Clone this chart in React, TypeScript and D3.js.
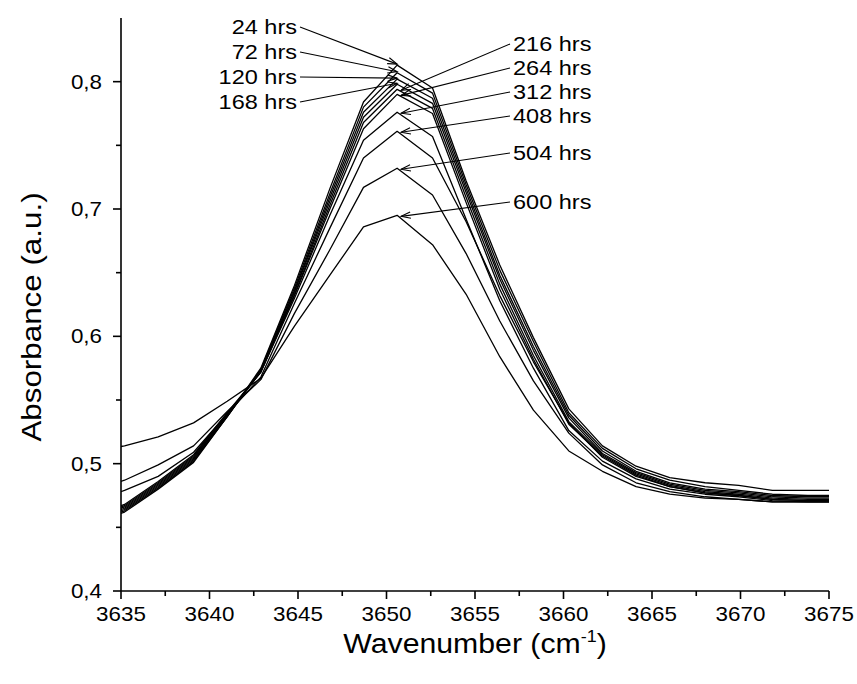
import React from "react";
import * as d3 from "d3";

const wavenumbers = [3633.3, 3635.2, 3637.1, 3639.1, 3641.0, 3642.9, 3644.8, 3646.8, 3648.7, 3650.6, 3652.6, 3654.5, 3656.4, 3658.3, 3660.3, 3662.2, 3664.1, 3666.0, 3668.0, 3669.9, 3671.8, 3673.8, 3675.7];

const h24 = [0.452, 0.462, 0.480, 0.501, 0.537, 0.575, 0.640, 0.716, 0.784, 0.813, 0.795, 0.722, 0.656, 0.599, 0.543, 0.514, 0.498, 0.489, 0.485, 0.483, 0.479, 0.479, 0.479];
const h72 = [0.453, 0.463, 0.481, 0.502, 0.537, 0.574, 0.638, 0.712, 0.780, 0.807, 0.791, 0.719, 0.652, 0.596, 0.540, 0.512, 0.496, 0.487, 0.482, 0.479, 0.476, 0.475, 0.475];
const h120 = [0.454, 0.464, 0.482, 0.503, 0.537, 0.573, 0.636, 0.709, 0.776, 0.802, 0.787, 0.716, 0.648, 0.592, 0.538, 0.510, 0.494, 0.485, 0.480, 0.478, 0.475, 0.474, 0.474];
const h168 = [0.455, 0.465, 0.483, 0.504, 0.538, 0.573, 0.635, 0.706, 0.772, 0.798, 0.783, 0.713, 0.645, 0.589, 0.536, 0.508, 0.493, 0.484, 0.479, 0.477, 0.474, 0.473, 0.473];
const h216 = [0.456, 0.466, 0.484, 0.505, 0.538, 0.572, 0.633, 0.703, 0.768, 0.794, 0.779, 0.709, 0.641, 0.585, 0.533, 0.507, 0.492, 0.483, 0.478, 0.476, 0.473, 0.472, 0.472];
const h264 = [0.457, 0.467, 0.485, 0.506, 0.539, 0.572, 0.632, 0.700, 0.763, 0.790, 0.775, 0.705, 0.637, 0.582, 0.531, 0.506, 0.491, 0.482, 0.477, 0.475, 0.472, 0.471, 0.471];
const h312 = [0.458, 0.468, 0.486, 0.507, 0.540, 0.572, 0.630, 0.695, 0.754, 0.776, 0.757, 0.692, 0.628, 0.575, 0.526, 0.502, 0.488, 0.480, 0.476, 0.474, 0.471, 0.470, 0.470];
const h408 = [0.470, 0.479, 0.490, 0.509, 0.539, 0.568, 0.626, 0.685, 0.740, 0.761, 0.740, 0.690, 0.632, 0.580, 0.532, 0.505, 0.490, 0.482, 0.477, 0.475, 0.472, 0.471, 0.471];
const h504 = [0.478, 0.487, 0.499, 0.514, 0.541, 0.566, 0.618, 0.668, 0.717, 0.732, 0.711, 0.665, 0.612, 0.565, 0.524, 0.499, 0.485, 0.478, 0.474, 0.472, 0.470, 0.470, 0.470];
const h600 = [0.509, 0.514, 0.521, 0.532, 0.549, 0.567, 0.608, 0.648, 0.686, 0.695, 0.672, 0.633, 0.584, 0.542, 0.510, 0.494, 0.482, 0.476, 0.473, 0.472, 0.470, 0.470, 0.470];

const seriesLabels = ["24 hrs", "72 hrs", "120 hrs", "168 hrs", "216 hrs", "264 hrs", "312 hrs", "408 hrs", "504 hrs", "600 hrs"];
const seriesValues = [h24, h72, h120, h168, h216, h264, h312, h408, h504, h600];

const xTicks = [3635, 3640, 3645, 3650, 3655, 3660, 3665, 3670, 3675];
const yTicks = [0.4, 0.5, 0.6, 0.7, 0.8];
const yTickLabels = ["0,4", "0,5", "0,6", "0,7", "0,8"];
const peakWavenumber = 3650.6;

// layout (annotation positions)
const labelLayout = [
  { side: "left", y: 27 },
  { side: "left", y: 52 },
  { side: "left", y: 77 },
  { side: "left", y: 102 },
  { side: "right", y: 44 },
  { side: "right", y: 68 },
  { side: "right", y: 92 },
  { side: "right", y: 116 },
  { side: "right", y: 153 },
  { side: "right", y: 202 },
];

const W = 857;
const H = 684;
const FONT = "'Liberation Sans', Arial, Helvetica, sans-serif";
const SX = 1.12; // horizontal stretch of the reference's lettering

function SText(props: { x: number; y: number; anchor: string; size: number; children: any; baseline?: string }) {
  return (
    <g transform={`translate(${props.x},${props.y}) scale(${SX},1)`}>
      <text
        x={0}
        y={0}
        textAnchor={props.anchor}
        dominantBaseline={props.baseline || "auto"}
        fontFamily={FONT}
        fontSize={props.size}
        fill="#000"
      >
        {props.children}
      </text>
    </g>
  );
}

export default function App() {
  const x = d3.scaleLinear().domain([3635, 3675]).range([121, 829]);
  const y = d3.scaleLinear().domain([0.4, 0.85]).range([591, 18]);
  const line = d3
    .line<number>()
    .x((_, i) => x(wavenumbers[i]))
    .y((d) => y(d));

  const minorX = d3.range(3637.5, 3675, 5);
  const minorY = [0.45, 0.55, 0.65, 0.75];
  const peakIdx = wavenumbers.indexOf(peakWavenumber);

  return (
    <svg width={W} height={H} style={{ position: "absolute", left: 0, top: 0, background: "#fff" }}>
      <defs>
        <clipPath id="plotclip">
          <rect x={121} y={0} width={708} height={600} />
        </clipPath>
      </defs>
      <rect x={0} y={0} width={W} height={H} fill="#fff" />
      <g clipPath="url(#plotclip)" fill="none" stroke="#000" strokeWidth={1.3} strokeLinejoin="round">
        {seriesValues.map((vals, k) => (
          <path key={k} d={line(vals) || ""} />
        ))}
      </g>
      {/* axes */}
      <g stroke="#000" strokeWidth={1.6} fill="none">
        <line x1={121} y1={591} x2={829} y2={591} />
        <line x1={121} y1={18} x2={121} y2={591} />
        {xTicks.map((t) => (
          <line key={"xt" + t} x1={x(t)} x2={x(t)} y1={591} y2={599} />
        ))}
        {minorX.map((t) => (
          <line key={"xm" + t} x1={x(t)} x2={x(t)} y1={591} y2={596} />
        ))}
        {yTicks.map((t) => (
          <line key={"yt" + t} x1={113} x2={121} y1={y(t)} y2={y(t)} />
        ))}
        {minorY.map((t) => (
          <line key={"ym" + t} x1={116} x2={121} y1={y(t)} y2={y(t)} />
        ))}
      </g>
      {xTicks.map((t) => (
        <SText key={"xl" + t} x={x(t)} y={621} anchor="middle" size={20}>
          {String(t)}
        </SText>
      ))}
      {yTicks.map((t, i) => (
        <SText key={"yl" + t} x={102} y={y(t)} anchor="end" size={20} baseline="central">
          {yTickLabels[i]}
        </SText>
      ))}
      <SText x={475} y={653} anchor="middle" size={27}>
        Wavenumber (cm
        <tspan fontSize={16} dy={-11}>-1</tspan>
        <tspan dy={11}>)</tspan>
      </SText>
      <g transform={`translate(41, 317) rotate(-90) scale(${SX},1)`}>
        <text x={0} y={0} textAnchor="middle" fontFamily={FONT} fontSize={28} fill="#000">
          Absorbance (a.u.)
        </text>
      </g>
      {/* annotations */}
      {seriesLabels.map((lab, k) => {
        const L = labelLayout[k];
        const left = L.side === "left";
        const sx = left ? 300 : 510;
        const sy = L.y;
        const tx = x(wavenumbers[peakIdx]) + (left ? 0 : 4);
        const ty = y(seriesValues[k][peakIdx]) + (left ? -1 : 1);
        const ang = Math.atan2(ty - sy, tx - sx);
        const al = 10;
        const sp = 0.32;
        const w1x = tx - al * Math.cos(ang - sp);
        const w1y = ty - al * Math.sin(ang - sp);
        const w2x = tx - al * Math.cos(ang + sp);
        const w2y = ty - al * Math.sin(ang + sp);
        return (
          <g key={lab}>
            <SText x={left ? 297 : 513} y={L.y} anchor={left ? "end" : "start"} size={21} baseline="central">
              {lab}
            </SText>
            <g stroke="#000" strokeWidth={1.1} fill="none">
              <line x1={sx} y1={sy} x2={tx} y2={ty} />
              <polyline points={`${w1x},${w1y} ${tx},${ty} ${w2x},${w2y}`} />
            </g>
          </g>
        );
      })}
    </svg>
  );
}
